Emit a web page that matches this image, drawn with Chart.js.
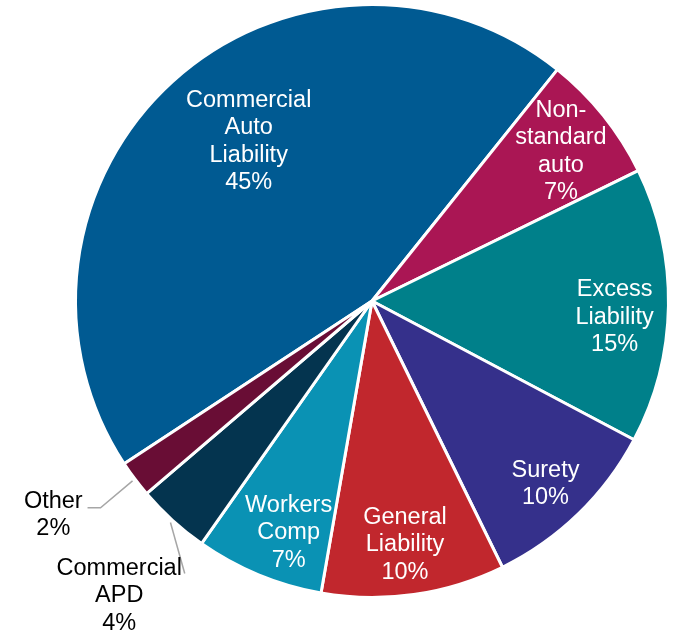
<!DOCTYPE html>
<html>
<head>
<meta charset="utf-8">
<script src="https://cdn.jsdelivr.net/npm/chart.js@4.4.1/dist/chart.umd.min.js"></script>
<style>
  html, body { margin: 0; padding: 0; background: #ffffff; }
  #wrap { position: relative; width: 680px; height: 635px; }
</style>
</head>
<body>
<div id="wrap"><canvas id="pie"></canvas></div>
<script>
// Business mix by line of coverage (share of premium, %)
const categories = [
  ["Commercial", "Auto", "Liability"],
  ["Non-", "standard", "auto"],
  ["Excess", "Liability"],
  ["Surety"],
  ["General", "Liability"],
  ["Workers", "Comp"],
  ["Commercial", "APD"],
  ["Other"]
];
const shares = [45, 7, 15, 10, 10, 7, 4, 2];
const sliceColors = ["#005a92", "#aa1654", "#00808a", "#35308b", "#c1272d", "#0a92b4", "#04344f", "#690d35"];

// Label placement per slice: radius as a fraction of the outer radius,
// angular nudge (degrees) from the slice middle, and whether it sits outside.
const labelStyle = [
  { f: 0.68, nudge: 4.6, inside: true },
  { f: 0.813, nudge: 0.3, inside: true },
  { f: 0.82, nudge: 2.9, inside: true },
  { f: 0.85, nudge: 0.6, inside: true },
  { f: 0.83, nudge: 0.4, inside: true },
  { f: 0.83, nudge: -2.7, inside: true },
  { f: 1.31, nudge: -1.7, inside: false, leader: [[1.01, 0], [1.115, -7.8]] },
  { f: 1.295, nudge: 3.0, inside: false, leader: [[1.01, 0], [1.151, -0.4]], tail: -13 }
];

const FONT = '23.5px "Liberation Sans", Arial, sans-serif';
const LINE_H = 27.5;

const sliceLabels = {
  id: "sliceLabels",
  afterDatasetsDraw(chart) {
    const ctx = chart.ctx;
    const arcs = chart.getDatasetMeta(0).data;
    const rad = Math.PI / 180;
    arcs.forEach((arc, i) => {
      const p = arc.getProps(["x", "y", "startAngle", "endAngle", "outerRadius"], true);
      const mid = (p.startAngle + p.endAngle) / 2;
      const st = labelStyle[i];
      const at = (f, d) => ({
        x: p.x + Math.cos(mid + d * rad) * p.outerRadius * f,
        y: p.y + Math.sin(mid + d * rad) * p.outerRadius * f
      });
      ctx.save();
      if (st.leader) {
        ctx.strokeStyle = "#a6a6a6";
        ctx.lineWidth = 1.5;
        ctx.beginPath();
        st.leader.forEach((q, k) => {
          const pt = at(q[0], q[1]);
          if (k === 0) ctx.moveTo(pt.x, pt.y); else ctx.lineTo(pt.x, pt.y);
          if (k === st.leader.length - 1 && st.tail) ctx.lineTo(pt.x + st.tail, pt.y);
        });
        ctx.stroke();
      }
      const lines = categories[i].concat([shares[i] + "%"]);
      const c = at(st.f, st.nudge);
      ctx.font = FONT;
      ctx.fillStyle = st.inside ? "#ffffff" : "#000000";
      ctx.textAlign = "center";
      ctx.textBaseline = "middle";
      const top = c.y - (lines.length - 1) * LINE_H / 2;
      lines.forEach((t, k) => ctx.fillText(t, c.x, top + k * LINE_H));
      ctx.restore();
    });
  }
};

new Chart(document.getElementById("pie"), {
  type: "pie",
  data: {
    labels: categories.map(l => l.join(" ")),
    datasets: [{
      data: shares,
      backgroundColor: sliceColors,
      borderColor: "#ffffff",
      borderWidth: 3
    }]
  },
  options: {
    responsive: true,
    maintainAspectRatio: false,
    animation: false,
    rotation: 236.7,
    layout: { padding: { left: 74, right: 10, top: 3, bottom: 36 } },
    plugins: {
      legend: { display: false },
      tooltip: { enabled: false }
    }
  },
  plugins: [sliceLabels]
});
</script>
</body>
</html>
